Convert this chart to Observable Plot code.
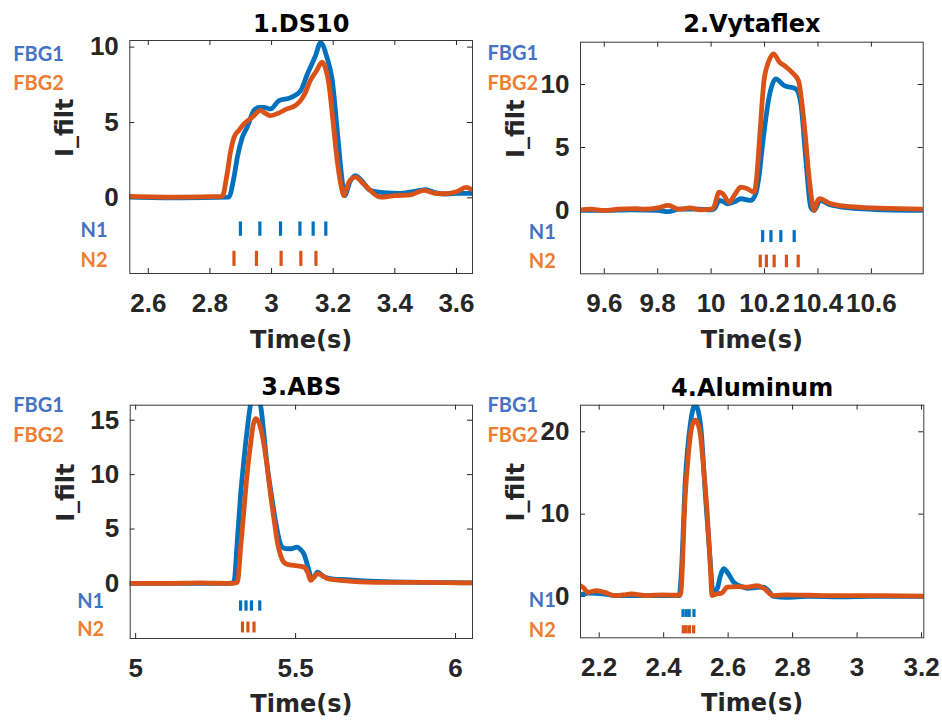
<!DOCTYPE html>
<html><head><meta charset="utf-8">
<script src="https://cdn.jsdelivr.net/npm/d3@7"></script>
<script src="https://cdn.jsdelivr.net/npm/@observablehq/plot@0.6"></script>
<style>
body{margin:0;background:#fff;}
#wrap{position:relative;width:942px;height:724px;overflow:hidden;}
.panel{position:absolute;}
</style></head><body><div id="wrap"></div>
<script>
// ---------- Data ----------
const titles = ["1.DS10", "2.Vytaflex", "3.ABS", "4.Aluminum"];
const seriesNames = ["FBG1", "FBG2"];
const rugNames = ["N1", "N2"];
const xLabel = "Time(s)";
const yLabel = "I_filt";
const n1Level = [-1.6, -2.55];
const n2Level = [-3.55, -4.55];

// Panel 1: DS10
const p1_xTicks = [2.6, 2.8, 3, 3.2, 3.4, 3.6];
const p1_yTicks = [0, 5, 10];
const p1_t_fbg1 = [2.54, 2.70, 2.861, 2.878, 2.889, 2.905, 2.921, 2.943, 2.96, 2.975, 2.997, 3.024, 3.062, 3.094, 3.116, 3.143, 3.159, 3.18, 3.197, 3.213, 3.229, 3.237, 3.255, 3.272, 3.29, 3.32, 3.36, 3.42, 3.47, 3.50, 3.53, 3.57, 3.60, 3.65];
const p1_v_fbg1 = [0.05, 0.0, 0.05, 1.37, 2.7, 4.0, 4.7, 5.8, 6.0, 6.0, 5.9, 6.45, 6.65, 7.1, 8.2, 9.45, 10.3, 9.3, 7.8, 4.5, 1.15, 0.15, 1.1, 1.48, 1.2, 0.5, 0.35, 0.3, 0.45, 0.55, 0.35, 0.25, 0.3, 0.3];
const p1_t_fbg2 = [2.54, 2.70, 2.84, 2.855, 2.868, 2.878, 2.895, 2.91, 2.935, 2.964, 2.98, 2.997, 3.02, 3.05, 3.075, 3.094, 3.11, 3.126, 3.145, 3.164, 3.175, 3.186, 3.197, 3.213, 3.229, 3.234, 3.25, 3.272, 3.30, 3.353, 3.40, 3.45, 3.494, 3.53, 3.559, 3.60, 3.63, 3.65];
const p1_v_fbg2 = [0.1, 0.05, 0.1, 1.5, 3.2, 4.0, 4.5, 4.9, 5.3, 5.8, 5.6, 5.45, 5.6, 5.9, 6.1, 6.45, 7.0, 7.8, 8.4, 9.0, 8.6, 7.56, 5.57, 2.47, 0.48, 0.15, 1.0, 1.37, 0.9, 0.05, 0.15, 0.2, 0.5, 0.3, 0.27, 0.4, 0.7, 0.55];
const p1_n1 = [2.899, 2.962, 3.029, 3.092, 3.135, 3.176];
const p1_n2 = [2.878, 2.951, 3.031, 3.095, 3.144];

// Panel 2: Vytaflex
const p2_xTicks = [9.6, 9.8, 10, 10.2, 10.4, 10.6];
const p2_yTicks = [0, 5, 10];
const p2_t_fbg1 = [9.51, 9.6, 9.7, 9.8, 9.84, 9.88, 9.95, 10.0, 10.015, 10.03, 10.045, 10.061, 10.09, 10.111, 10.149, 10.167, 10.178, 10.193, 10.217, 10.242, 10.273, 10.317, 10.336, 10.355, 10.373, 10.386, 10.408, 10.44, 10.48, 10.55, 10.65, 10.79];
const p2_v_fbg1 = [0.0, 0.0, 0.05, 0.0, -0.1, 0.1, 0.1, 0.05, 0.2, 0.8, 0.7, 0.53, 0.7, 0.93, 0.8, 1.33, 2.5, 5.3, 9.0, 10.45, 9.92, 9.66, 8.47, 3.97, 0.26, 0.0, 0.8, 0.5, 0.3, 0.15, 0.05, 0.0];
const p2_t_fbg2 = [9.51, 9.55, 9.60, 9.65, 9.715, 9.75, 9.80, 9.84, 9.88, 9.92, 9.96, 10.0, 10.011, 10.03, 10.045, 10.067, 10.09, 10.111, 10.136, 10.161, 10.17, 10.18, 10.198, 10.215, 10.234, 10.255, 10.28, 10.302, 10.327, 10.34, 10.352, 10.365, 10.377, 10.386, 10.397, 10.408, 10.44, 10.477, 10.52, 10.6, 10.7, 10.79];
const p2_v_fbg2 = [0.05, 0.1, 0.0, 0.1, 0.15, 0.1, 0.2, 0.4, 0.1, 0.2, 0.05, 0.1, 0.3, 1.45, 1.3, 0.66, 1.3, 1.85, 1.72, 1.45, 2.5, 5.3, 10.3, 11.8, 12.44, 11.8, 11.4, 10.98, 10.3, 8.5, 6.1, 3.0, 0.8, 0.0, 0.7, 0.93, 0.6, 0.4, 0.3, 0.2, 0.15, 0.1];
const p2_n1 = [10.193, 10.224, 10.261, 10.311];
const p2_n2 = [10.184, 10.207, 10.236, 10.282, 10.326];

// Panel 3: ABS
const p3_xTicks = [5, 5.5, 6];
const p3_yTicks = [0, 5, 10, 15];
const p3_t_fbg1 = [4.983, 5.1, 5.2, 5.29, 5.307, 5.318, 5.328, 5.339, 5.349, 5.359, 5.372, 5.39, 5.40, 5.41, 5.424, 5.438, 5.448, 5.458, 5.47, 5.484, 5.505, 5.516, 5.526, 5.538, 5.55, 5.558, 5.568, 5.59, 5.62, 5.66, 5.7, 5.8, 5.9, 6.053];
const p3_v_fbg1 = [0.0, 0.0, 0.0, 0.0, 0.1, 4.0, 8.1, 11.5, 14.2, 16.4, 17.3, 16.4, 14.0, 11.1, 8.2, 5.6, 4.1, 3.34, 3.2, 3.19, 3.34, 3.1, 2.7, 1.6, 0.5, 0.6, 1.04, 0.6, 0.4, 0.35, 0.25, 0.15, 0.1, 0.05];
const p3_t_fbg2 = [4.983, 5.1, 5.2, 5.3, 5.318, 5.328, 5.338, 5.35, 5.359, 5.367, 5.375, 5.385, 5.396, 5.41, 5.422, 5.433, 5.443, 5.453, 5.463, 5.475, 5.495, 5.526, 5.538, 5.547, 5.558, 5.568, 5.585, 5.6, 5.65, 5.7, 5.8, 5.9, 6.053];
const p3_v_fbg2 = [0.0, 0.0, 0.05, 0.0, 0.1, 3.2, 6.55, 10.5, 12.7, 14.5, 15.14, 14.8, 13.6, 11.0, 8.1, 5.8, 3.8, 2.6, 1.96, 1.75, 1.65, 1.5, 1.0, 0.28, 0.6, 0.9, 0.7, 0.43, 0.25, 0.15, 0.1, 0.1, 0.05];
const p3_n1 = [5.328, 5.345, 5.362, 5.388];
const p3_n2 = [5.334, 5.351, 5.370];

// Panel 4: Aluminum
const p4_xTicks = [2.2, 2.4, 2.6, 2.8, 3, 3.2];
const p4_yTicks = [0, 10, 20];
const p4_t_fbg1 = [2.142, 2.166, 2.217, 2.248, 2.30, 2.40, 2.448, 2.455, 2.467, 2.483, 2.498, 2.514, 2.53, 2.545, 2.553, 2.566, 2.576, 2.586, 2.60, 2.617, 2.64, 2.659, 2.69, 2.71, 2.725, 2.741, 2.78, 2.85, 2.95, 3.05, 3.207];
const p4_v_fbg1 = [0.2, 0.4, 0.3, 0.1, 0.1, 0.1, 0.1, 3.0, 14.0, 21.0, 23.3, 21.0, 12.0, 4.0, 0.5, 0.94, 2.5, 3.37, 2.8, 1.74, 1.2, 1.0, 1.1, 1.13, 0.7, 0.0, -0.1, 0.0, -0.05, 0.0, 0.0];
const p4_t_fbg2 = [2.142, 2.15, 2.166, 2.19, 2.217, 2.248, 2.28, 2.30, 2.35, 2.40, 2.44, 2.452, 2.467, 2.475, 2.483, 2.49, 2.498, 2.506, 2.514, 2.525, 2.535, 2.545, 2.55, 2.566, 2.58, 2.597, 2.63, 2.66, 2.69, 2.71, 2.741, 2.78, 2.85, 2.95, 3.05, 3.207];
const p4_v_fbg2 = [1.3, 1.1, 0.5, 0.7, 0.5, 0.1, 0.2, 0.3, 0.1, 0.2, 0.15, 0.2, 12.3, 16.5, 19.6, 21.0, 21.4, 21.0, 19.6, 15.0, 10.2, 3.5, 0.12, 0.33, 0.4, 1.13, 1.2, 1.13, 1.3, 1.0, 0.1, 0.2, 0.15, 0.1, 0.1, 0.05];
const p4_n1 = [2.460, 2.470, 2.479, 2.494];
const p4_n2 = [2.461, 2.470, 2.480, 2.493];

// ---------- Styling / layout ----------
const BLUE = "#0072BD", ORANGE = "#D95319", LBLUE = "#4472C4", LORANGE = "#ED7D31";
const AXC = "#262626";
const TICKFONT = "Liberation Sans";
const TITLEFONT = "DejaVu Sans";
const LABFONT = "Lato";

const panels = [
  {left: 0, top: 0, width: 475, height: 362, ml: 129.3, mr: 3, mt: 40, mb: 89,
   xd: [2.54, 3.652], yd: [-5.02, 10.44], xt: p1_xTicks, yt: p1_yTicks,
   tB: p1_t_fbg1, vB: p1_v_fbg1, tO: p1_t_fbg2, vO: p1_v_fbg2, n1: p1_n1, n2: p1_n2,
   title: titles[0], titleDy: -15.7, timeDy: 67, fbgDx: -116.6, fbg1Dy: 14, fbg2Dy: 42.7,
   nDx: -49.3, n1Dy: 190, n2Dy: 220},
  {left: 471, top: 0, width: 471, height: 362, ml: 109, mr: 19.3, mt: 41.7, mb: 88.7,
   xd: [9.511, 10.794], yd: [-5.03, 13.36], xt: p2_xTicks, yt: p2_yTicks,
   tB: p2_t_fbg1, vB: p2_v_fbg1, tO: p2_t_fbg2, vO: p2_v_fbg2, n1: p2_n1, n2: p2_n2,
   title: titles[1], titleDy: -17.4, timeDy: 66.7, fbgDx: -93, fbg1Dy: 11.6, fbg2Dy: 41,
   nDx: -51.7, n1Dy: 190, n2Dy: 219},
  {left: 0, top: 362, width: 475, height: 362, ml: 129.7, mr: 3, mt: 42.7, mb: 86,
   xd: [4.983, 6.053], yd: [-5.06, 16.38], xt: p3_xTicks, yt: p3_yTicks,
   tB: p3_t_fbg1, vB: p3_v_fbg1, tO: p3_t_fbg2, vO: p3_v_fbg2, n1: p3_n1, n2: p3_n2,
   title: titles[2], titleDy: -17.7, timeDy: 65.7, fbgDx: -117, fbg1Dy: 0.6, fbg2Dy: 30,
   nDx: -53, n1Dy: 196.6, n2Dy: 224},
  {left: 471, top: 362, width: 471, height: 362, ml: 109, mr: 18.7, mt: 42.7, mb: 86.7,
   xd: [2.142, 3.207], yd: [-5.02, 23.23], xt: p4_xTicks, yt: p4_yTicks,
   tB: p4_t_fbg1, vB: p4_v_fbg1, tO: p4_t_fbg2, vO: p4_v_fbg2, n1: p4_n1, n2: p4_n2,
   title: titles[3], titleDy: -16.7, timeDy: 66, fbgDx: -93, fbg1Dy: 0.6, fbg2Dy: 30,
   nDx: -51.7, n1Dy: 195.6, n2Dy: 225.6}
];

function makePanel(o) {
  const fh = o.height - o.mt - o.mb, fw = o.width - o.ml - o.mr;
  const blue = o.tB.map((t, i) => ({t, v: o.vB[i]}));
  const orange = o.tO.map((t, i) => ({t, v: o.vO[i]}));
  const txt = {fontFamily: TITLEFONT, fontSize: 24, fontWeight: "bold", fill: "#111", text: d => d, lineAnchor: "middle"};
  const tick = {fontFamily: TICKFONT, fontSize: 26, fontWeight: "bold", fill: AXC, text: d => String(d), lineAnchor: "middle"};
  const lab = {fontFamily: LABFONT, fontSize: 20, fontWeight: "bold", textAnchor: "start", frameAnchor: "top-left",
               lineAnchor: "middle", dx: o.fbgDx, text: d => d};
  return Plot.plot({
    width: o.width, height: o.height,
    marginLeft: o.ml, marginRight: o.mr, marginTop: o.mt, marginBottom: o.mb,
    style: "background: transparent; overflow: visible;",
    x: {domain: o.xd, axis: null}, y: {domain: o.yd, axis: null},
    marks: [
      Plot.ruleX(o.xt, {x: d => d, insetTop: fh - 5, stroke: AXC}),
      Plot.ruleX(o.xt, {x: d => d, insetBottom: fh - 5, stroke: AXC}),
      Plot.ruleY(o.yt, {y: d => d, insetLeft: fw - 5, stroke: AXC}),
      Plot.ruleY(o.yt, {y: d => d, insetRight: fw - 5, stroke: AXC}),
      Plot.line(blue, {x: "t", y: "v", stroke: BLUE, strokeWidth: 4.8, curve: "monotone-x", clip: true}),
      Plot.line(orange, {x: "t", y: "v", stroke: ORANGE, strokeWidth: 4.8, curve: "monotone-x", clip: true}),
      Plot.ruleX(o.n1, {x: d => d, y1: n1Level[0], y2: n1Level[1], stroke: BLUE, strokeWidth: 3.2}),
      Plot.ruleX(o.n2, {x: d => d, y1: n2Level[0], y2: n2Level[1], stroke: ORANGE, strokeWidth: 3.2}),
      Plot.frame({stroke: "#3a3a3a", strokeWidth: 1}),
      // tick labels (x and y axes)
      Plot.text(o.xt, {...tick, x: d => d, frameAnchor: "bottom", dy: 30}),
      Plot.text(o.yt, {...tick, y: d => d, frameAnchor: "left", dx: -11, textAnchor: "end"}),
      // titles and axis labels
      Plot.text([o.title], {...txt, frameAnchor: "top", dy: o.titleDy, fill: "#000"}),
      Plot.text([xLabel], {...txt, frameAnchor: "bottom", dy: o.timeDy, fill: AXC}),
      Plot.text([yLabel], {...txt, frameAnchor: "left", dx: -64, rotate: -90, fill: AXC}),
      // series / rug labels
      Plot.text([seriesNames[0]], {...lab, dy: o.fbg1Dy, fill: LBLUE}),
      Plot.text([seriesNames[1]], {...lab, dy: o.fbg2Dy, fill: LORANGE}),
      Plot.text([rugNames[0]], {...lab, dx: o.nDx, dy: o.n1Dy, fill: LBLUE}),
      Plot.text([rugNames[1]], {...lab, dx: o.nDx, dy: o.n2Dy, fill: LORANGE})
    ]
  });
}

const wrap = document.getElementById("wrap");
for (const o of panels) {
  const div = document.createElement("div");
  div.className = "panel";
  div.style.left = o.left + "px";
  div.style.top = o.top + "px";
  div.appendChild(makePanel(o));
  wrap.appendChild(div);
}
</script>
</body></html>
